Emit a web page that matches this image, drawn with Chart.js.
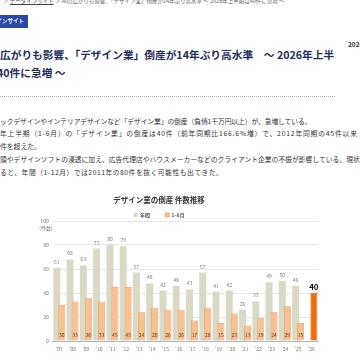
<!DOCTYPE html>
<html lang="ja">
<head>
<meta charset="utf-8">
<script src="https://cdn.jsdelivr.net/npm/chart.js@4.4.1/dist/chart.umd.min.js"></script>
<style>
  html, body { margin: 0; padding: 0; background: #fff; }
  body {
    width: 360px; height: 360px; overflow: hidden; position: relative;
    font-family: "Noto Sans CJK JP", "Noto Sans", sans-serif;
  }
  .abs { position: absolute; white-space: nowrap; }
  .crumb { top: -3px; left: 3px; font-size: 5.5px; color: #666; line-height: 8px; }
  .crumb u { color: #444; }
  .badge {
    top: 15px; left: -40px; width: 68px; height: 13px; line-height: 13px;
    background: #2b48a8; color: #fff; font-size: 5.5px; font-weight: bold; text-align: right;
  }
  .badge span { padding-right: 4px; }
  .date { top: 40px; left: 348px; font-size: 6.5px; font-weight: bold; color: #333; line-height: 8px; }
  .title { left: -3px; font-size: 10.7px; font-weight: bold; color: #222e5e; line-height: 14px; }
  .rule { top: 96px; left: 0; width: 335px; border-top: 1px dotted #b8b8b8; }
  .txt { left: 0; font-size: 6.8px; color: #333; line-height: 10px; }
  #chartBox { position: absolute; left: 0; top: 190px; width: 360px; height: 170px; }
</style>
</head>
<body>
<div class="abs crumb">＞ <u>データインサイト</u> ＞ AIの広がりも影響、「デザイン業」倒産が14年ぶり高水準 ～ 2026年上半期は40件に急増 ～</div>
<div class="abs badge"><span>TSRデータインサイト</span></div>
<div class="abs date">2026/07/08</div>

<div class="abs title" style="top:48px; left:0">広がりも影響、「デザイン業」倒産が14年ぶり高水準　～ 2026年上半</div>
<div class="abs title" style="top:66px; left:-3px">40件に急増 ～</div>
<div class="abs rule"></div>

<div class="abs txt" style="top:115.5px; letter-spacing:-0.1px">ックデザインやインテリアデザインなど「デザイン業」の倒産（負債1千万円以上）が、急増している。</div>
<div class="abs txt" style="top:128.3px; letter-spacing:0.8px">年上半期（1-6月）の「デザイン業」の倒産は40件（前年同期比166.6%増）で、2012年同期の45件以来</div>
<div class="abs txt" style="top:141px">件を超えた。</div>
<div class="abs txt" style="top:153.9px">頭やデザインソフトの浸透に加え、広告代理店やハウスメーカーなどのクライアント企業の不振が影響している。現状</div>
<div class="abs txt" style="top:166.7px; letter-spacing:0.5px">ると、年間（1-12月）では2011年の80件を抜く可能性も出てきた。</div>

<div id="chartBox"><canvas id="chart"></canvas></div>

<script>
// Data
const years = ["'07", "'08", "'09", "'10", "'11", "'12", "'13", "'14", "'15", "'16",
               "'17", "'18", "'19", "'20", "'21", "'22", "'23", "'24", "'25", "'26"];
const annualCounts = [61, 68, 63, 77, 80, 79, 57, 48, 42, 46,
                      43, 57, 41, 42, 26, 33, 49, 50, 46, null];
const halfYearCounts = [30, 33, 36, 33, 45, 45, 24, 28, 26, 26,
                        17, 28, 15, 23, 13, 19, 24, 29, 15, 40];
const seriesNames = ['年間', '1-6月'];
const yMax = 100;
const yStep = 20;
const yUnit = '(件数)';

const FONT = "'Noto Sans CJK JP', 'Noto Sans', sans-serif";
const lastIdx = years.length - 1;

// draw the 1-6月 bars above the annual ones, then the value labels
const overlayPlugin = {
  id: 'overlay',
  beforeDatasetDraw(chart, args) {
    if (args.index === 1) return false;
  },
  afterDatasetsDraw(chart) {
    const ctx = chart.ctx;
    chart.getDatasetMeta(1).controller.draw();

    const yScale = chart.scales.y;
    const zeroY = yScale.getPixelForValue(0);
    ctx.save();
    ctx.textAlign = 'center';
    ctx.textBaseline = 'middle';

    ctx.font = '5px ' + FONT;
    ctx.fillStyle = '#7a7a7a';
    chart.getDatasetMeta(0).data.forEach((bar, i) => {
      if (annualCounts[i] == null) return;
      ctx.fillText(String(annualCounts[i]), bar.x, bar.y - 6);
    });

    chart.getDatasetMeta(1).data.forEach((bar, i) => {
      if (i === lastIdx) {
        ctx.font = 'bold 8px ' + FONT;
        ctx.fillStyle = '#111';
        ctx.fillText(String(halfYearCounts[i]), bar.x, bar.y - 6.5);
      } else {
        ctx.font = '5px ' + FONT;
        ctx.fillStyle = '#5e3b1c';
        ctx.fillText(String(halfYearCounts[i]), bar.x, zeroY - 6);
      }
    });

    // unit under the top tick
    ctx.font = '5px ' + FONT;
    ctx.fillStyle = '#7a7a7a';
    ctx.fillText(yUnit, 46, yScale.getPixelForValue(yMax) + 7.3);
    ctx.restore();
  }
};

new Chart(document.getElementById('chart'), {
  type: 'bar',
  data: {
    labels: years,
    datasets: [{
      label: seriesNames[0],
      data: annualCounts,
      backgroundColor: '#d9d9c6',
      borderWidth: 0
    }, {
      label: seriesNames[1],
      data: halfYearCounts,
      backgroundColor: ctx => ctx.dataIndex === lastIdx ? '#ee6b12' : '#f9c092',
      borderColor: ctx => ctx.dataIndex === lastIdx ? '#ee6b12' : '#ec9a58',
      borderWidth: 0.8
    }]
  },
  options: {
    responsive: true,
    maintainAspectRatio: false,
    animation: false,
    categoryPercentage: 0.75,
    barPercentage: 1.4,
    layout: {
      padding: { left: 0, right: 42, top: 0, bottom: 0 }
    },
    plugins: {
      title: {
        display: true,
        text: 'デザイン業の倒産 件数推移',
        color: '#333',
        font: { size: 7.5, weight: 'bold', family: FONT },
        padding: { top: 6, bottom: -7.5 }
      },
      legend: {
        display: true,
        maxHeight: 23.5,
        labels: {
          color: '#555',
          boxWidth: 4,
          boxHeight: 4,
          padding: 15,
          font: { size: 5, weight: 'bold', family: FONT }
        }
      },
      tooltip: { enabled: false }
    },
    scales: {
      x: {
        grid: { display: false, drawTicks: false },
        border: { display: true, color: '#a9b6c9', width: 1 },
        ticks: {
          color: '#777',
          padding: 5,
          maxRotation: 0,
          autoSkip: false,
          font: { size: 5, family: FONT }
        },
        afterFit: s => { s.height = 19; }
      },
      y: {
        min: 0,
        max: yMax,
        grid: {
          drawTicks: false,
          color: ctx => ctx.tick.value === 0 ? 'rgba(0,0,0,0)' : '#e6e6e6'
        },
        border: { display: false },
        ticks: {
          stepSize: yStep,
          color: '#777',
          padding: 4,
          font: { size: 5, family: FONT }
        },
        afterFit: s => { s.width = 52.7; }
      }
    }
  },
  plugins: [overlayPlugin]
});
</script>
</body>
</html>
